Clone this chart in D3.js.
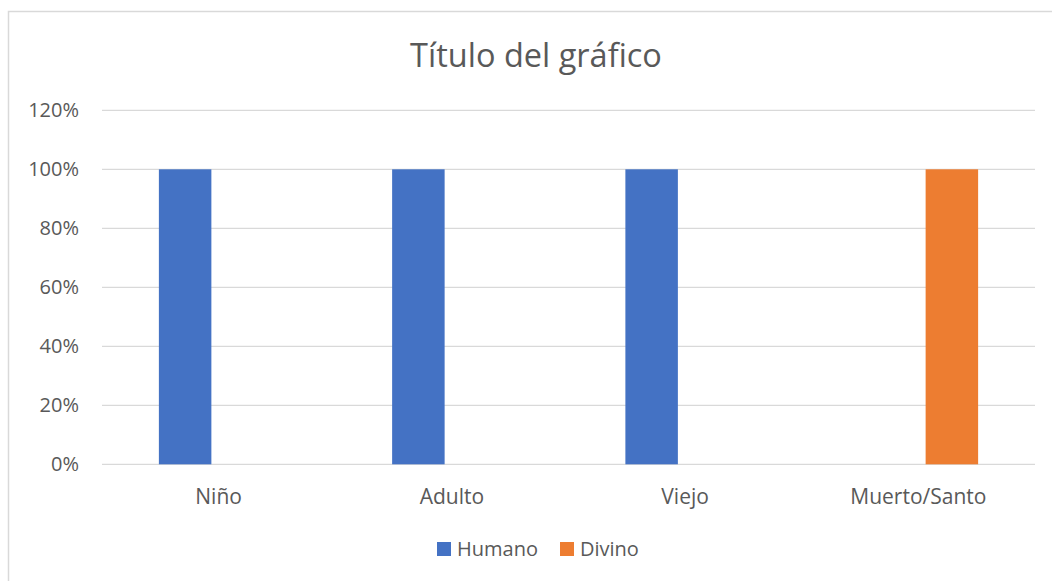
<!DOCTYPE html>
<html>
<head>
<meta charset="utf-8">
<script src="https://cdn.jsdelivr.net/npm/d3@7"></script>
<style>
  html, body { margin: 0; padding: 0; background: #fff; }
  svg { display: block; }
  text { font-family: "Open Sans", sans-serif; fill: #595959; }
</style>
</head>
<body>
<svg id="chart" width="1052" height="581"></svg>
<script>
const title = "Título del gráfico";
const categories = ["Niño", "Adulto", "Viejo", "Muerto/Santo"];
const seriesNames = ["Humano", "Divino"];
const humano = [1, 1, 1, 0];
const divino = [0, 0, 0, 1];
const yTicks = [0, 0.2, 0.4, 0.6, 0.8, 1.0, 1.2];
const colors = ["#4472C4", "#ED7D31"];

const seriesValues = [humano, divino];
const svg = d3.select("#chart");
const W = 1052, H = 581;

// chart border
svg.append("rect")
  .attr("x", 8.5).attr("y", 11.5)
  .attr("width", W + 20).attr("height", H + 20)
  .attr("fill", "#fff").attr("stroke", "#d9d9d9").attr("stroke-width", 1.5);

const plot = { left: 102, right: 1035, top: 110.3, bottom: 464.3 };

const x0 = d3.scaleBand().domain(categories).range([plot.left, plot.right]).paddingInner(0).paddingOuter(0);
const x1 = d3.scaleBand().domain(seriesNames).range([0, x0.bandwidth()]).paddingInner(0.2164).paddingOuter(0.849);
const y = d3.scaleLinear().domain([0, 1.2]).range([plot.bottom, plot.top]);

// gridlines
svg.append("g").selectAll("line").data(yTicks).join("line")
  .attr("x1", plot.left).attr("x2", plot.right)
  .attr("y1", d => y(d)).attr("y2", d => y(d))
  .attr("stroke", "#d9d9d9").attr("stroke-width", 1.3);

// y axis labels
const fmt = d3.format(".0%");
const yAxis = d3.axisLeft(y).tickValues(yTicks).tickFormat(fmt).tickSize(0).tickPadding(23);
const yg = svg.append("g").attr("transform", `translate(${plot.left},0)`).call(yAxis);
yg.select(".domain").remove();
yg.selectAll("text").attr("font-size", 20).attr("font-family", "Open Sans").attr("fill", "#595959");

// bars
const data = [];
categories.forEach((c, i) => seriesNames.forEach((s, j) => data.push({ c, s, v: seriesValues[j][i], j })));
svg.append("g").selectAll("rect").data(data.filter(d => d.v > 0)).join("rect")
  .attr("x", d => x0(d.c) + x1(d.s))
  .attr("width", x1.bandwidth())
  .attr("y", d => y(d.v))
  .attr("height", d => y(0) - y(d.v))
  .attr("fill", d => colors[d.j]);

// x axis labels
const xAxis = d3.axisBottom(x0).tickSize(0).tickPadding(25);
const xg = svg.append("g").attr("transform", `translate(0,${plot.bottom})`).call(xAxis);
xg.select(".domain").remove();
xg.selectAll("text").attr("font-size", 21).attr("font-family", "Open Sans").attr("fill", "#595959");

// title
svg.append("text").attr("x", 536).attr("y", 67).attr("text-anchor", "middle")
  .attr("font-size", 32.5).text(title);

// legend
const legendItems = [
  { name: seriesNames[0], color: colors[0], x: 437 },
  { name: seriesNames[1], color: colors[1], x: 560 }
];
const lg = svg.append("g");
legendItems.forEach(it => {
  lg.append("rect").attr("x", it.x).attr("y", 542).attr("width", 14).attr("height", 14).attr("fill", it.color);
  lg.append("text").attr("x", it.x + 20).attr("y", 556).attr("font-size", 20).text(it.name);
});
</script>
</body>
</html>
